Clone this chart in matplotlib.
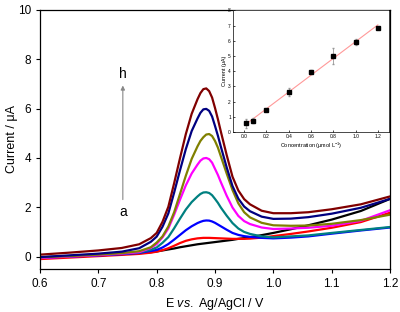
import numpy as np
import matplotlib
matplotlib.use('Agg')
import matplotlib.pyplot as plt

plt.rcParams['font.family'] = ['Liberation Sans', 'DejaVu Sans']
plt.rcParams['mathtext.fontset'] = 'custom'
plt.rcParams['mathtext.rm'] = 'Liberation Sans'
plt.rcParams['mathtext.it'] = 'Liberation Sans:italic'

# potential grid (V)
E = [0.60, 0.65, 0.70, 0.74, 0.77, 0.79, 0.80, 0.81, 0.82, 0.83, 0.84, 0.85,
     0.86, 0.87, 0.875, 0.88, 0.885, 0.89, 0.895, 0.90, 0.905, 0.91, 0.92,
     0.93, 0.94, 0.95, 0.96, 0.98, 1.00, 1.03, 1.06, 1.10, 1.15, 1.20]

# currents (uA), curves a..h
cur_a = [-0.05, 0.00, 0.05, 0.10, 0.14, 0.18, 0.21, 0.25, 0.29, 0.33, 0.38, 0.42,
         0.46, 0.50, 0.515, 0.53, 0.545, 0.56, 0.575, 0.59, 0.605, 0.62, 0.65,
         0.68, 0.72, 0.75, 0.79, 0.87, 0.96, 1.11, 1.27, 1.50, 1.85, 2.34]
cur_b = [-0.10, -0.04, 0.02, 0.07, 0.11, 0.16, 0.20, 0.26, 0.34, 0.44, 0.55, 0.64,
         0.70, 0.74, 0.75, 0.76, 0.76, 0.76, 0.755, 0.75, 0.745, 0.74, 0.73,
         0.72, 0.72, 0.72, 0.73, 0.77, 0.83, 0.92, 1.02, 1.17, 1.40, 1.78]
cur_c = [-0.05, 0.00, 0.05, 0.10, 0.15, 0.23, 0.27, 0.37, 0.51, 0.69, 0.88, 1.07,
         1.23, 1.36, 1.41, 1.45, 1.465, 1.46, 1.425, 1.37, 1.30, 1.23, 1.09,
         0.96, 0.88, 0.83, 0.80, 0.76, 0.74, 0.77, 0.82, 0.93, 1.06, 1.18]
cur_d = [-0.03, 0.02, 0.07, 0.12, 0.17, 0.28, 0.37, 0.56, 0.79, 1.15, 1.54, 1.91,
         2.21, 2.44, 2.54, 2.60, 2.61, 2.58, 2.49, 2.34, 2.18, 1.99, 1.66,
         1.36, 1.14, 1.00, 0.92, 0.82, 0.78, 0.82, 0.86, 0.96, 1.08, 1.20]
cur_e = [-0.06, 0.00, 0.06, 0.12, 0.18, 0.35, 0.51, 0.78, 1.14, 1.70, 2.31, 2.89,
         3.37, 3.73, 3.89, 3.98, 4.00, 3.95, 3.81, 3.56, 3.31, 3.02, 2.47,
         1.99, 1.65, 1.44, 1.32, 1.18, 1.12, 1.14, 1.17, 1.25, 1.45, 1.88]
cur_f = [-0.03, 0.02, 0.08, 0.14, 0.22, 0.38, 0.57, 0.82, 1.22, 1.80, 2.54, 3.28,
         3.96, 4.47, 4.69, 4.84, 4.95, 4.97, 4.89, 4.69, 4.42, 4.07, 3.37,
         2.70, 2.16, 1.80, 1.59, 1.37, 1.27, 1.25, 1.26, 1.33, 1.48, 1.70]
cur_g = [-0.02, 0.05, 0.12, 0.20, 0.34, 0.60, 0.81, 1.21, 1.75, 2.60, 3.50, 4.36,
         5.09, 5.60, 5.83, 5.97, 5.99, 5.91, 5.68, 5.30, 4.90, 4.46, 3.62,
         2.86, 2.35, 2.03, 1.84, 1.62, 1.53, 1.54, 1.60, 1.74, 1.98, 2.34]
cur_h = [0.08, 0.16, 0.25, 0.35, 0.50, 0.75, 0.96, 1.41, 2.02, 2.98, 3.99, 4.97,
         5.79, 6.38, 6.63, 6.79, 6.82, 6.71, 6.45, 6.03, 5.57, 5.07, 4.12,
         3.24, 2.68, 2.33, 2.12, 1.86, 1.76, 1.76, 1.80, 1.92, 2.12, 2.44]

curves = [cur_a, cur_b, cur_c, cur_d, cur_e, cur_f, cur_g, cur_h]
colors = ['#000000', '#ff0000', '#0000ff', '#008080', '#ff00ff', '#808000',
          '#000080', '#800000']

# inset calibration data
conc = [0.02, 0.08, 0.2, 0.4, 0.6, 0.8, 1.0, 1.2]
peak = [0.56, 0.74, 1.45, 2.61, 3.96, 5.00, 5.92, 6.86]
err = [0.30, 0.15, 0.05, 0.25, 0.10, 0.50, 0.20, 0.05]

fig = plt.figure(figsize=(4, 3.12), dpi=100)
ax = fig.add_axes([0.1, 0.138, 0.875, 0.83])
for c, col in zip(curves, colors):
    ax.plot(E, c, color=col, lw=1.6, solid_joinstyle='round')

ax.set_xlim(0.6, 1.2)
ax.set_ylim(-0.5, 10)
ax.set_xticks([0.6, 0.7, 0.8, 0.9, 1.0, 1.1, 1.2])
ax.set_yticks([0, 2, 4, 6, 8, 10])
ax.tick_params(direction='out', length=3, width=0.8, labelsize=8.5)
ax.set_xlabel('E $\\mathit{vs.}$ Ag/AgCl / V', fontsize=9)
ax.set_ylabel('Current / μA', fontsize=9)
ax.yaxis.set_label_coords(-0.062, 0.5)
for s in ax.spines.values():
    s.set_linewidth(0.9)

ax.annotate('', xy=(0.742, 7.05), xytext=(0.742, 2.2),
            arrowprops=dict(arrowstyle='-|>', color='#888888', lw=0.8,
                            mutation_scale=6))
ax.text(0.742, 7.4, 'h', ha='center', va='center', fontsize=10)
ax.text(0.742, 1.8, 'a', ha='center', va='center', fontsize=10)

# inset
ins = fig.add_axes([0.5825, 0.577, 0.39, 0.39])
ins.errorbar(conc, peak, yerr=err, fmt='s', color='black', ms=2.5,
             ecolor='#999999', elinewidth=0.6, capsize=1)
k, b = np.polyfit(conc, peak, 1)
fx = np.array([conc[0], conc[-1]])
ins.plot(fx, k * fx + b, color='#ff9999', lw=0.8, zorder=0)
ins.set_xlim(-0.1, 1.3)
ins.set_ylim(0, 8)
ins.set_xticks([0.0, 0.2, 0.4, 0.6, 0.8, 1.0, 1.2])
ins.set_xticklabels(['0.0', '0.2', '0.4', '0.6', '0.8', '1.0', '1.2'])
ins.set_yticks(range(9))
ins.tick_params(direction='in', length=1.5, width=0.5, labelsize=3.5, pad=1.5)
ins.set_xlabel('Concentration (μmol L$^{-1}$)', fontsize=4, labelpad=1)
ins.set_ylabel('Current (μA)', fontsize=4, labelpad=1)
for s in ins.spines.values():
    s.set_linewidth(0.5)

fig.savefig('out.png', dpi=100)
